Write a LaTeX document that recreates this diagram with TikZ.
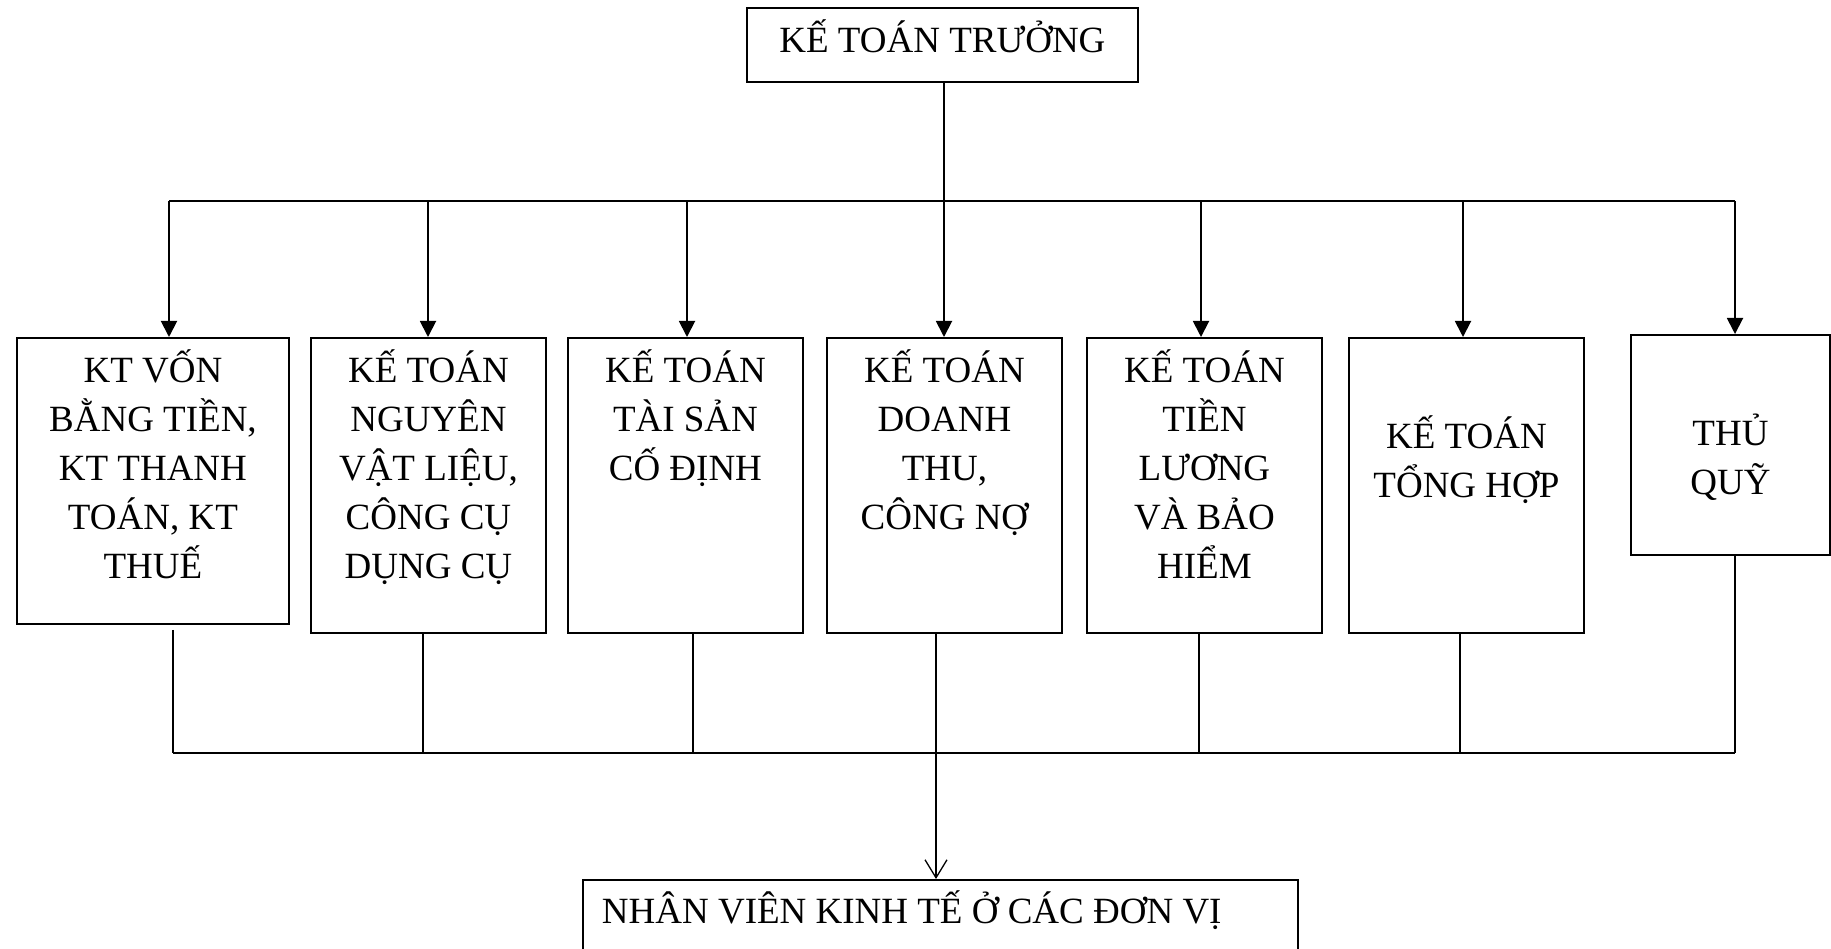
\documentclass[tikz,border=0pt]{standalone}
\usepackage{fontspec}
\setmainfont{Liberation Serif}
\usetikzlibrary{arrows.meta,positioning,calc}
\newcommand{\noidung}[4]{\parbox[t][#2][t]{#1}{\centering\lineskiplimit=-100pt\baselineskip=49pt\rule{0pt}{#3}#4}}

\begin{document}
\begin{tikzpicture}[x=1pt,y=-1pt,
    hop/.style={draw,line width=1.9pt,inner sep=0pt,anchor=north west,font=\fontsize{37}{49}\selectfont},
    noi/.style={line width=1.9pt},
    mui/.style={noi,-{Triangle[length=16pt,width=16pt]}}]
  \clip (0,0) rectangle (1831,949);
  \node[hop] (top) at (746,7) {\noidung{391pt}{74pt}{45pt}{KẾ TOÁN TRƯỞNG}};
  \node[hop] (b1) at (16,337) {\noidung{272pt}{286pt}{45pt}{KT VỐN\\BẰNG TIỀN,\\KT THANH\\TOÁN, KT\\THUẾ}};
  \node[hop] (b2) at (310,337) {\noidung{235pt}{295pt}{45pt}{KẾ TOÁN\\NGUYÊN\\VẬT LIỆU,\\CÔNG CỤ\\DỤNG CỤ}};
  \node[hop] (b3) at (567,337) {\noidung{235pt}{295pt}{45pt}{KẾ TOÁN\\TÀI SẢN\\CỐ ĐỊNH}};
  \node[hop] (b4) at (826,337) {\noidung{235pt}{295pt}{45pt}{KẾ TOÁN\\DOANH\\THU,\\CÔNG NỢ}};
  \node[hop] (b5) at (1086,337) {\noidung{235pt}{295pt}{45pt}{KẾ TOÁN\\TIỀN\\LƯƠNG\\VÀ BẢO\\HIỂM}};
  \node[hop] (b6) at (1348,337) {\noidung{235pt}{295pt}{111pt}{KẾ TOÁN\\TỔNG HỢP}};
  \node[hop] (b7) at (1630,334) {\noidung{199pt}{220pt}{111pt}{THỦ\\QUỸ}};
  \node[hop] (nv) at (582,879) {\parbox[t][110pt][t]{715pt}{\raggedright\hspace*{19pt}\rule{0pt}{44pt}NHÂN VIÊN KINH TẾ Ở CÁC ĐƠN VỊ}};
  % top bus
  \coordinate (t1) at (169,201); \coordinate (t2) at (428,201);
  \coordinate (t3) at (687,201); \coordinate (t4) at (944,201);
  \coordinate (t5) at (1201,201); \coordinate (t6) at (1463,201);
  \coordinate (t7) at (1735,201);
  \draw[noi] (t1)--(t7);
  \draw[mui] (top.south -| t4)--(t4 |- b4.north);
  \foreach \t/\b in {t1/b1,t2/b2,t3/b3,t5/b5,t6/b6,t7/b7}{\draw[mui] (\t)--(\t |- \b.north);}
  % bottom bus
  \coordinate (d1) at (173,753); \coordinate (d2) at (423,753);
  \coordinate (d3) at (693,753); \coordinate (d4) at (936,753);
  \coordinate (d5) at (1199,753); \coordinate (d6) at (1460,753);
  \coordinate (d7) at (1735,753);
  \draw[noi] (d1)--(d7);
  \draw[noi] ([yshift=-5pt]b1.south -| d1)--(d1);
  \foreach \d/\b in {d2/b2,d3/b3,d4/b4,d5/b5,d6/b6,d7/b7}{\draw[noi] (\b.south -| \d)--(\d);}
  \draw[line width=1.3pt,-{Straight Barb[length=18pt,width=22pt]}] (d4)--(d4 |- nv.north);
\end{tikzpicture}
\end{document}
